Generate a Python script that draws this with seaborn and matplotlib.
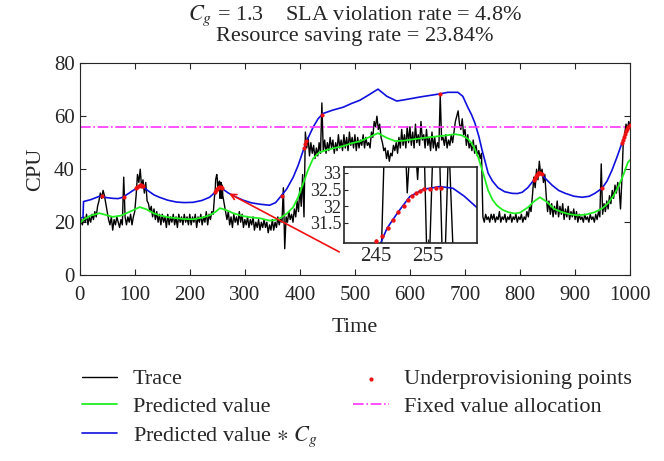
import numpy as np
import pandas as pd
import matplotlib
matplotlib.use('Agg')
import matplotlib.pyplot as plt
import seaborn as sns

CG = 1.3
FIXED_ALLOC = 55.8

trace_step = 2.5
trace_vals = [
    17, 21, 19, 22, 20, 23, 19, 22, 20, 23,
    21, 24, 22, 26, 28, 31, 29, 32, 30, 27,
    24, 21, 19, 22, 17, 21, 19, 22, 20, 18,
    21, 19, 37, 22, 19, 22, 20, 23, 19, 22,
    24, 30, 38, 35, 40, 33, 36, 31, 35, 28,
    27, 24, 26, 22, 25, 21, 24, 20, 23, 19,
    23, 20, 22, 18, 23, 19, 22, 20, 23, 19,
    22, 18, 23, 20, 22, 19, 23, 20, 22, 19,
    23, 19, 22, 20, 23, 18, 22, 20, 23, 19,
    22, 20, 24, 19, 23, 21, 24, 23, 27, 30,
    38, 36, 33, 35, 30, 27, 24, 21, 24, 19,
    22, 18, 23, 20, 22, 19, 24, 20, 23, 18,
    21, 19, 22, 18, 21, 19, 22, 17, 20, 18,
    21, 17, 20, 18, 21, 18, 20, 16, 19, 17,
    21, 17, 20, 18, 22, 19, 21, 20, 33, 10,
    22, 20, 24, 21, 23, 20, 25, 22, 28, 24,
    33, 26, 38, 22, 54, 48, 52, 45, 50, 46,
    49, 44, 48, 45, 50, 46, 65, 47, 51, 46,
    50, 47, 52, 48, 51, 46, 50, 47, 53, 48,
    51, 47, 53, 48, 52, 47, 54, 49, 52, 48,
    53, 47, 52, 48, 51, 49, 53, 48, 52, 49,
    50, 48, 54, 52, 58, 56, 60, 55, 57, 52,
    50, 47, 48, 44, 47, 43, 46, 45, 49, 47,
    50, 46, 52, 48, 55, 49, 53, 48, 56, 50,
    56, 49, 54, 48, 57, 50, 53, 49, 58, 51,
    53, 48, 55, 49, 52, 47, 54, 48, 52, 47,
    50, 48, 68, 51, 52, 49, 53, 48, 51, 49,
    53, 50, 54, 58, 60, 62, 57, 55, 59, 53,
    55, 49, 53, 48, 50, 47, 51, 46, 49, 45,
    47, 44, 46, 22, 20, 23, 21, 22, 20, 23,
    21, 23, 20, 22, 21, 24, 20, 22, 21, 23,
    20, 22, 21, 23, 20, 22, 21, 23, 20, 22,
    21, 23, 20, 22, 21, 24, 22, 26, 24, 30,
    37, 33, 40, 36, 43, 38, 40, 35, 38, 30,
    24, 28, 23, 27, 22, 26, 23, 28, 22, 26,
    23, 27, 21, 25, 22, 26, 21, 24, 22, 25,
    21, 24, 20, 23, 21, 22, 20, 23, 21, 22,
    20, 23, 21, 22, 20, 23, 21, 24, 22, 42,
    23, 27, 24, 28, 25, 30, 27, 32, 29, 34,
    31, 35, 33, 25, 36, 50, 53, 57, 55, 58,
    56,
]
# finer trace around the zoomed window
detail_t = [244, 245, 246, 247, 248, 249, 250, 251, 252, 253, 254, 255, 256, 257, 258, 259, 260]
detail_v = [27, 30, 30.6, 36, 37, 38, 36.5, 32.4, 35, 32.8, 35.5, 29, 34, 35, 29, 34, 30]

pred_t = [0, 7, 20, 36, 50, 60, 75, 85, 100, 109, 121, 135, 145, 160, 176, 190, 206, 222,
          236, 246, 255, 267, 280, 297, 312, 327, 345, 355, 364, 376, 388, 397, 406, 415,
          424, 435, 448, 463, 479, 494, 509, 525, 542, 558, 573, 590, 610, 633, 660, 682,
          694, 705, 712, 718, 724, 733, 742, 750, 758, 768, 778, 790, 800, 815, 825, 836,
          845, 851, 862, 876, 890, 905, 920, 936, 950, 960, 970, 978, 988, 996, 1000]
pred_v = [19.6, 21.0, 22.5, 23.4, 22.6, 22.0, 22.5, 23.4, 24.8, 25.7, 24.9, 23.3, 22.6, 21.9,
          21.5, 21.2, 21.1, 21.7, 22.6, 23.8, 25.3, 24.5, 23.3, 22.3, 21.8, 21.5, 20.6, 20.8,
          21.5, 23.2, 25.7, 29.5, 34.6, 39.8, 44.0, 46.3, 47.2, 48.0, 48.7, 49.8, 50.5, 52.0,
          53.6, 51.8, 50.6, 50.8, 51.4, 52.0, 52.6, 53.2, 52.8, 51.5, 49.8, 47.5, 44.5, 38.5,
          32.0, 28.5, 26.3, 24.7, 23.8, 23.3, 23.6, 25.7, 27.8, 29.4, 28.2, 27.2, 25.0, 23.8,
          23.0, 22.6, 22.9, 23.8, 25.3, 27.2, 30.0, 33.2, 38.0, 42.6, 43.5]

alloc_t = [0, 6, 7, 20, 36, 48, 60, 70, 78, 90, 103, 112, 122, 135, 145, 160, 176, 190, 206,
           222, 236, 246, 255, 262, 270, 285, 297, 312, 327, 345, 356, 364, 376, 388, 397,
           406, 415, 424, 433, 442, 460, 479, 494, 509, 525, 542, 558, 576, 596, 620, 651,
           669, 687, 696, 705, 712, 718, 725, 731, 737, 742, 750, 760, 772, 785, 795, 804,
           814, 822, 836, 846, 858, 870, 882, 898, 913, 926, 936, 949, 958, 967, 976, 985,
           992, 996, 1000]
alloc_v = [21.5, 21.8, 27.8, 28.5, 29.8, 29.3, 29.0, 28.9, 29.4, 31.0, 32.8, 34.0, 32.2, 30.3,
           29.4, 28.3, 27.6, 27.4, 27.5, 28.2, 29.4, 31.3, 33.2, 32.2, 31.0, 29.4, 28.3, 27.3,
           26.8, 26.4, 27.4, 29.4, 32.5, 37.0, 41.5, 47.0, 51.8, 55.8, 59.0, 61.0, 62.3, 63.4,
           64.8, 66.0, 68.0, 70.2, 67.5, 65.7, 66.4, 67.3, 68.3, 69.0, 69.0, 67.5, 63.4, 60.5,
           57.4, 52.5, 47.2, 42.5, 38.5, 35.5, 33.0, 31.5, 30.9, 30.8, 31.3, 33.0, 35.1, 38.5,
           36.5, 34.0, 32.0, 30.9, 29.8, 29.4, 29.8, 30.9, 32.8, 35.5, 39.6, 44.5, 49.8, 53.5,
           55.8, 57.0]

under_t = [40, 80, 103, 105, 107, 109, 111, 113, 115, 246, 248, 250, 252, 254, 256, 258,
           368, 408, 410, 412, 440, 655, 825, 827, 829, 831, 833, 835, 837, 839, 948,
           985, 987, 989, 991, 993, 995, 997, 999]
under_v = [30, 29.5, 33, 33.3, 33.6, 33.9, 34, 33.8, 33.5, 31.5, 32.1, 32.6, 33, 33.2, 33.1, 33,
           30, 48, 49.5, 50.5, 60.5, 68.5, 36, 36.7, 37.3, 37.9, 38.4, 38.6, 38.4, 38, 32.8,
           50, 51, 52.2, 53.3, 54.3, 55.2, 56, 56.6]

# zoomed window (inset)
zoom_t = [245.9, 247.1, 249.3, 251.5, 252.9, 254.1, 255.4, 257.3, 259.8, 262, 264.5]
zoom_alloc = [30.9, 31.34, 31.84, 32.29, 32.41, 32.51, 32.54, 32.59, 32.54, 32.3, 31.95]
zoom_under_t = [245, 246.1, 247.2, 248.3, 249.3, 250.3, 251.2, 252.0, 252.7, 253.5, 254.3, 255.4, 256.5, 257.6]
zoom_under_v = [30.97, 31.1, 31.34, 31.6, 31.82, 32.02, 32.19, 32.32, 32.41, 32.47, 32.51, 32.53, 32.55, 32.56]

sns.set_style('ticks')
plt.rcParams['font.family'] = ['Liberation Serif', 'DejaVu Serif']
plt.rcParams['mathtext.fontset'] = 'stix'
plt.rcParams['xtick.direction'] = 'in'
plt.rcParams['ytick.direction'] = 'in'

assert len(trace_vals) == 401
trace = pd.DataFrame({'t': np.arange(len(trace_vals)) * trace_step, 'v': trace_vals})
trace = trace[(trace.t < detail_t[0]) | (trace.t > detail_t[-1])]
trace = pd.concat([trace, pd.DataFrame({'t': detail_t, 'v': detail_v})]).sort_values('t')
pred = pd.DataFrame({'t': pred_t, 'v': pred_v})
alloc = pd.DataFrame({'t': alloc_t, 'v': alloc_v})
under = pd.DataFrame({'t': under_t, 'v': under_v})

C_BLACK, C_GREEN, C_BLUE, C_RED, C_MAG = 'black', '#22ee22', '#1010dd', '#ee1111', '#ff33ff'
FS = 16

fig = plt.figure(figsize=(6.64, 4.61), dpi=100)
ax = fig.add_axes([0.120, 0.403, 0.829, 0.460])

sns.lineplot(data=trace, x='t', y='v', color=C_BLACK, lw=1.0, ax=ax, label='Trace', sort=False)
sns.lineplot(data=pred, x='t', y='v', color=C_GREEN, lw=1.3, ax=ax, label='Predicted value')
sns.lineplot(data=alloc, x='t', y='v', color=C_BLUE, lw=1.2, ax=ax,
             label=r'Predicted value $\ast$ $C_g$')
sns.scatterplot(data=under, x='t', y='v', color=C_RED, s=9, linewidth=0, ax=ax,
                label='Underprovisioning points', zorder=5)
ax.axhline(FIXED_ALLOC, color=C_MAG, lw=1.2, ls='-.', label='Fixed value allocation')

ax.set_xlim(0, 1000)
ax.set_ylim(0, 80)
ax.set_xticks(range(0, 1001, 100))
ax.set_yticks(range(0, 81, 20))
ax.tick_params(labelsize=15, top=True, right=True, length=4)
ax.tick_params(axis='x', pad=8)
ax.set_xlabel('Time', fontsize=FS, labelpad=9)
ax.set_ylabel('CPU', fontsize=FS, labelpad=6)
ax.set_title('$C_g$ = 1.3    SLA violation rate = 4.8%\nResource saving rate = 23.84%',
             fontsize=FS, linespacing=0.95, pad=16)

ax.annotate('', xy=(267, 31.3), xytext=(476, 8.3),
            arrowprops=dict(arrowstyle='->', color=C_RED, lw=1.2))

handles, labels = ax.get_legend_handles_labels()
ax.get_legend().remove()
fig.legend(handles, labels, loc='upper left', bbox_to_anchor=(0.11, 0.219), ncol=2,
           frameon=False, fontsize=FS, handlelength=1.6, columnspacing=1.6,
           labelspacing=0.32, handletextpad=0.7, borderaxespad=0)

ins = fig.add_axes([0.518, 0.473, 0.200, 0.165])
ins.set_facecolor('white')
sns.lineplot(data=trace, x='t', y='v', color=C_BLACK, lw=1.0, ax=ins, sort=False)
sns.lineplot(x=zoom_t, y=zoom_alloc, color=C_BLUE, lw=1.2, ax=ins)
sns.scatterplot(x=zoom_under_t, y=zoom_under_v, color=C_RED, s=10, linewidth=0, ax=ins, zorder=5)
ins.set_xlim(238.8, 264.4)
ins.set_ylim(30.9, 33.18)
ins.set_xticks([245, 255])
ins.set_yticks([31.5, 32, 32.5, 33])
ins.set_yticklabels(['31.5', '32', '32.5', '33'])
ins.tick_params(axis='y', labelsize=13, length=3, pad=2)
ins.tick_params(axis='x', labelsize=15, length=3, pad=3)
ins.set_xlabel('')
ins.set_ylabel('')
for s in ins.spines.values():
    s.set_linewidth(1.2)

fig.savefig('out.png', dpi=100)
